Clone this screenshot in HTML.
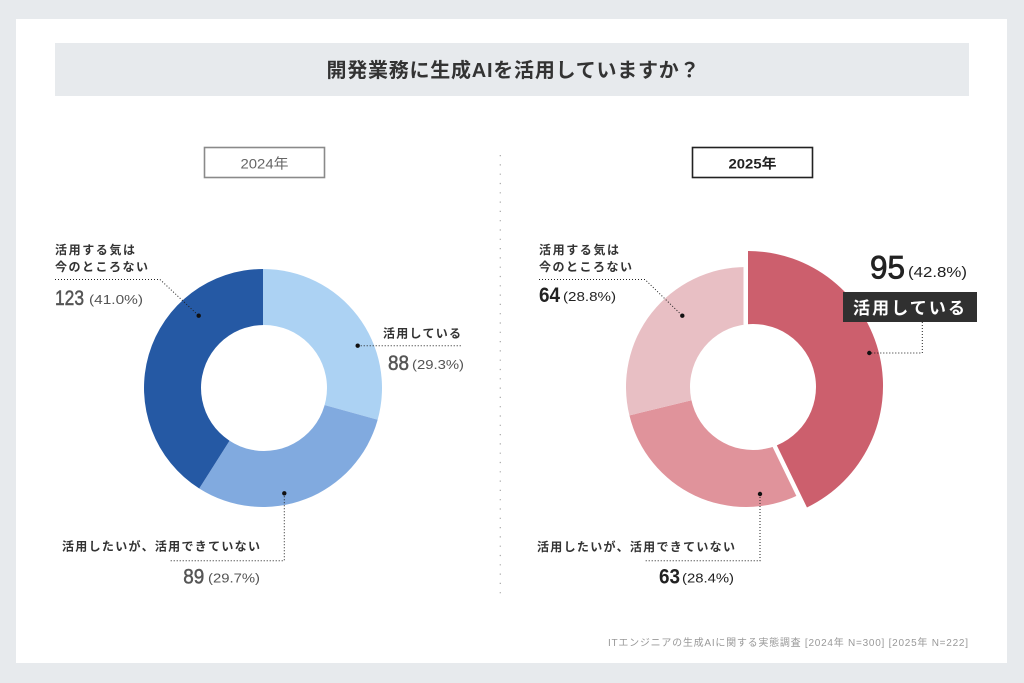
<!DOCTYPE html>
<html>
<head>
<meta charset="utf-8">
<style>
html,body{margin:0;padding:0;background:#e7eaed;}
svg{display:block;}
text{font-family:"Liberation Sans","Noto Sans CJK JP",sans-serif;}
.lb{font-size:12px;font-weight:bold;fill:#333;}
.num{font-family:"Liberation Sans Narrow","Liberation Sans",sans-serif;}
.dl{fill:none;stroke:#222;stroke-width:1;stroke-dasharray:1 2;}
</style>
</head>
<body>
<svg width="1024" height="683" viewBox="0 0 1024 683" xmlns="http://www.w3.org/2000/svg">
  <rect x="0" y="0" width="1024" height="683" fill="#e7eaed"/>
  <rect x="16" y="19" width="991" height="644" fill="#ffffff"/>

  <!-- Title -->
  <rect x="55" y="43" width="914" height="53" fill="#e7eaed"/>
  <text x="513" y="77" text-anchor="middle" font-size="20" font-weight="bold" fill="#333" textLength="373" lengthAdjust="spacing">開発業務に生成AIを活用していますか？</text>

  <!-- Year boxes -->
  <rect x="204.5" y="147.5" width="120" height="30" fill="#fff" stroke="#8a8a8a" stroke-width="1.6"/>
  <text x="264.5" y="168.5" text-anchor="middle" font-size="14" fill="#666" textLength="48" lengthAdjust="spacingAndGlyphs">2024年</text>
  <rect x="692.5" y="147.5" width="120" height="30" fill="#fff" stroke="#222" stroke-width="1.6"/>
  <text x="752.5" y="168.5" text-anchor="middle" font-size="14" font-weight="bold" fill="#222" textLength="48" lengthAdjust="spacingAndGlyphs">2025年</text>

  <!-- Divider -->
  <line x1="500.3" y1="155" x2="500.3" y2="597" stroke="#a8a8a8" stroke-width="1.2" stroke-dasharray="1.2 8.1"/>

  <!-- Left donut (2024) -->
  <path d="M263,388 L263,269 A119,119 0 0 1 377.67,419.8 Z" fill="#acd2f3"/>
  <path d="M263,388 L377.67,419.8 A119,119 0 0 1 199.24,488.47 Z" fill="#81aadf"/>
  <path d="M263,388 L199.24,488.47 A119,119 0 0 1 263,269 Z" fill="#2559a4"/>
  <circle cx="264" cy="388" r="63" fill="#fff"/>

  <!-- Left labels -->
  <text class="lb" x="55" y="254" textLength="80" lengthAdjust="spacing">活用する気は</text>
  <text class="lb" x="55" y="271" textLength="93" lengthAdjust="spacing">今のところない</text>
  <path class="dl" d="M55,279.5 H160 L198.7,315.7"/>
  <circle cx="198.7" cy="315.7" r="2.2" fill="#111"/>
  <text class="num" x="55" y="305" font-size="21" fill="#555" stroke="#555" stroke-width="0.5" textLength="29" lengthAdjust="spacingAndGlyphs">123</text>
  <text x="89" y="304" font-size="13" fill="#555" textLength="54" lengthAdjust="spacingAndGlyphs">(41.0%)</text>

  <text class="lb" x="383" y="337.5" textLength="78" lengthAdjust="spacing">活用している</text>
  <path class="dl" d="M357.7,345.7 H462"/>
  <circle cx="357.7" cy="345.7" r="2.2" fill="#111"/>
  <text class="num" x="388" y="370" font-size="21" fill="#555" stroke="#555" stroke-width="0.5" textLength="21" lengthAdjust="spacingAndGlyphs">88</text>
  <text x="412" y="369" font-size="13" fill="#555" textLength="52" lengthAdjust="spacingAndGlyphs">(29.3%)</text>

  <text class="lb" x="62" y="550.5" textLength="198" lengthAdjust="spacing">活用したいが、活用できていない</text>
  <path class="dl" d="M284.3,493.3 V560.7 H169.3"/>
  <circle cx="284.3" cy="493.3" r="2.2" fill="#111"/>
  <text class="num" x="183.3" y="583.5" font-size="21" fill="#555" stroke="#555" stroke-width="0.5" textLength="21" lengthAdjust="spacingAndGlyphs">89</text>
  <text x="208" y="582.5" font-size="13" fill="#555" textLength="52" lengthAdjust="spacingAndGlyphs">(29.7%)</text>

  <!-- Right donut (2025) -->
  <path d="M746,387 L798.4,494.95 A120,120 0 0 1 629.42,415.42 Z" fill="#e0939b"/>
  <path d="M746,387 L629.42,415.42 A120,120 0 0 1 746,267 Z" fill="#e8bfc4"/>
  <path d="M748,386 L748,251 A135,135 0 0 1 806.97,507.45 Z" fill="#cc5f6d" stroke="#fff" stroke-width="9" paint-order="stroke" stroke-linejoin="miter"/>
  <circle cx="753" cy="387" r="63" fill="#fff"/>

  <!-- Right labels -->
  <text class="lb" x="539" y="254" textLength="80" lengthAdjust="spacing">活用する気は</text>
  <text class="lb" x="539" y="271" textLength="93" lengthAdjust="spacing">今のところない</text>
  <path class="dl" d="M539,279.5 H645 L682.3,315.7"/>
  <circle cx="682.3" cy="315.7" r="2.2" fill="#111"/>
  <text class="num" x="539" y="302" font-size="21" font-weight="bold" fill="#222" textLength="21" lengthAdjust="spacingAndGlyphs">64</text>
  <text x="563" y="301" font-size="13" fill="#222" textLength="53" lengthAdjust="spacingAndGlyphs">(28.8%)</text>

  <text class="num" x="870" y="278.5" font-size="32" fill="#222" stroke="#222" stroke-width="0.8" textLength="35" lengthAdjust="spacingAndGlyphs">95</text>
  <text x="908" y="277" font-size="15" fill="#222" textLength="59" lengthAdjust="spacingAndGlyphs">(42.8%)</text>
  <rect x="843" y="292" width="134" height="30" fill="#303030"/>
  <text x="853" y="314" font-size="17" font-weight="bold" fill="#fff" textLength="112" lengthAdjust="spacing">活用している</text>
  <path class="dl" d="M922.3,322 V353 H869.3"/>
  <circle cx="869.3" cy="353" r="2.2" fill="#111"/>

  <text class="lb" x="537" y="551" textLength="198" lengthAdjust="spacing">活用したいが、活用できていない</text>
  <path class="dl" d="M760,494 V560.7 H645"/>
  <circle cx="760" cy="494" r="2.2" fill="#111"/>
  <text class="num" x="659" y="583.5" font-size="21" font-weight="bold" fill="#222" textLength="21" lengthAdjust="spacingAndGlyphs">63</text>
  <text x="682" y="582.5" font-size="13" fill="#222" textLength="52" lengthAdjust="spacingAndGlyphs">(28.4%)</text>

  <!-- Footer -->
  <text x="608" y="646" font-size="10" fill="#999" textLength="360" lengthAdjust="spacing">ITエンジニアの生成AIに関する実態調査 [2024年 N=300] [2025年 N=222]</text>
</svg>
</body>
</html>
